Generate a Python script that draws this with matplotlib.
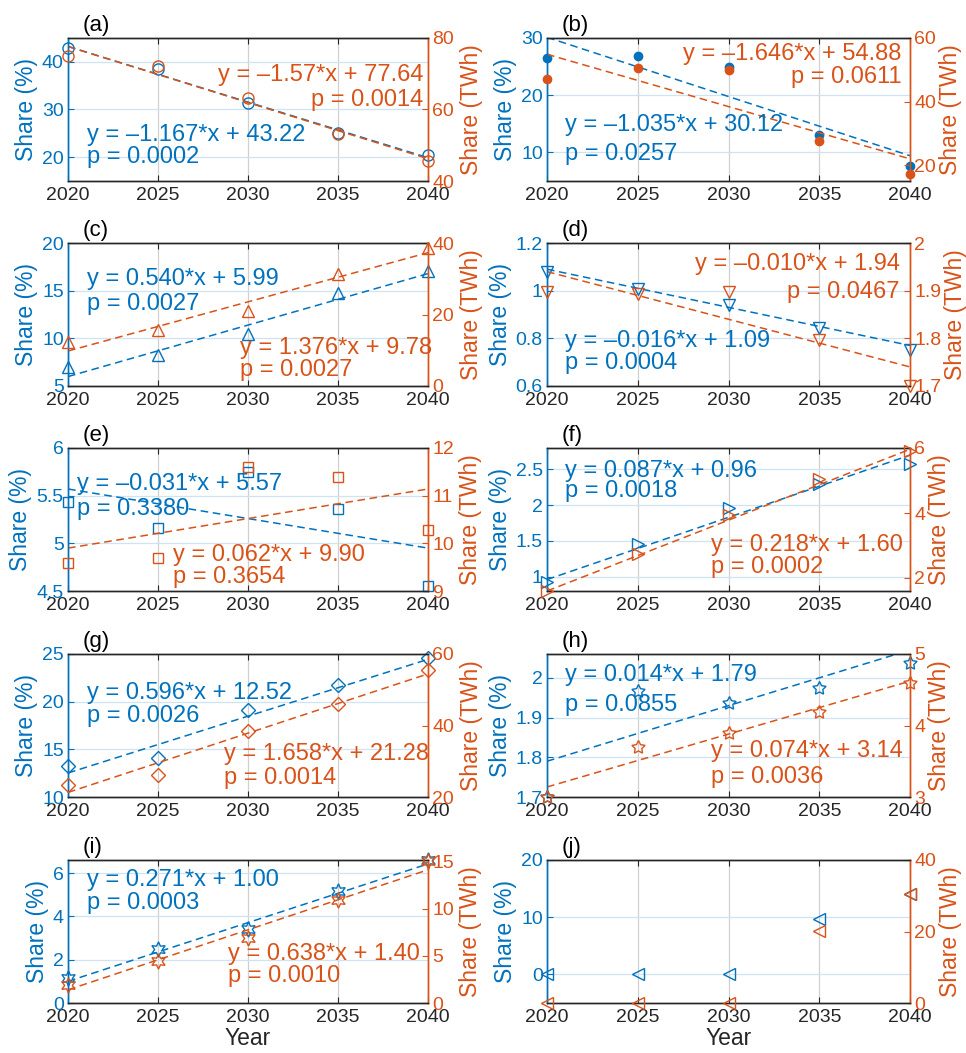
import matplotlib
matplotlib.use("Agg")
import matplotlib.pyplot as plt
import numpy as np
from matplotlib.ticker import FuncFormatter

plt.rcParams['font.family'] = ['Liberation Sans', 'DejaVu Sans']

# ---------------- data ----------------
years = [2020, 2025, 2030, 2035, 2040]
panel_ids = ['a', 'b', 'c', 'd', 'e', 'f', 'g', 'h', 'i', 'j']

a_pct = [42.8, 38.5, 31.4, 25.0, 20.4]
a_twh = [74.9, 72.2, 63.1, 53.1, 45.6]
b_pct = [26.5, 26.9, 25.0, 13.0, 7.6]
b_twh = [47.1, 50.6, 49.9, 27.5, 17.3]
c_pct = [6.95, 8.24, 10.44, 14.8, 17.07]
c_twh = [12.4, 15.6, 20.9, 31.4, 38.6]
d_pct = [1.078, 1.005, 0.94, 0.845, 0.752]
d_twh = [1.898, 1.893, 1.898, 1.797, 1.70]
e_pct = [5.43, 5.156, 5.75, 5.36, 4.556]
e_twh = [9.59, 9.69, 11.6, 11.39, 10.28]
f_pct = [0.92, 1.46, 1.96, 2.3, 2.57]
f_twh = [1.6, 2.73, 3.95, 5.04, 5.9]
g_pct = [13.29, 14.1, 19.1, 21.7, 24.6]
g_twh = [23.3, 26.2, 38.6, 45.95, 55.4]
h_pct = [1.70, 1.968, 1.937, 1.975, 2.037]
h_twh = [3.0, 3.70, 3.89, 4.19, 4.6]
i_pct = [1.14, 2.48, 3.42, 5.17, 6.6]
i_twh = [1.92, 4.45, 6.87, 10.95, 15.1]
j_pct = [0, 0, 0, 9.7, 14.06]
j_twh = [0, 0, 0, 20.2, 30.4]

pct_series = [a_pct, b_pct, c_pct, d_pct, e_pct, f_pct, g_pct, h_pct, i_pct, j_pct]
twh_series = [a_twh, b_twh, c_twh, d_twh, e_twh, f_twh, g_twh, h_twh, i_twh, j_twh]

# linear fits (x = years since 2020): slope, intercept
pct_slope = [-1.167, -1.035, 0.540, -0.016, -0.031, 0.087, 0.596, 0.014, 0.271, None]
pct_icpt = [43.22, 30.12, 5.99, 1.09, 5.57, 0.96, 12.52, 1.79, 1.00, None]
twh_slope = [-1.57, -1.646, 1.376, -0.010, 0.062, 0.218, 1.658, 0.074, 0.638, None]
twh_icpt = [77.64, 54.88, 9.78, 1.94, 9.90, 1.60, 21.28, 3.14, 1.40, None]

pct_eq = ["y = –1.167*x + 43.22", "y = –1.035*x + 30.12", "y = 0.540*x + 5.99",
          "y = –0.016*x + 1.09", "y = –0.031*x + 5.57", "y = 0.087*x + 0.96",
          "y = 0.596*x + 12.52", "y = 0.014*x + 1.79", "y = 0.271*x + 1.00", None]
pct_p = ["p = 0.0002", "p = 0.0257", "p = 0.0027", "p = 0.0004", "p = 0.3380",
         "p = 0.0018", "p = 0.0026", "p = 0.0855", "p = 0.0003", None]
twh_eq = ["y = –1.57*x + 77.64", "y = –1.646*x + 54.88", "y = 1.376*x + 9.78",
          "y = –0.010*x + 1.94", "y = 0.062*x + 9.90", "y = 0.218*x + 1.60",
          "y = 1.658*x + 21.28", "y = 0.074*x + 3.14", "y = 0.638*x + 1.40", None]
twh_p = ["p = 0.0014", "p = 0.0611", "p = 0.0027", "p = 0.0467", "p = 0.3654",
         "p = 0.0002", "p = 0.0014", "p = 0.0036", "p = 0.0010", None]

pct_ylim = [(15, 45), (5, 30), (5, 20), (0.6, 1.2), (4.5, 6), (0.8, 2.8), (10, 25), (1.7, 2.06), (0, 6.6), (-5, 20)]
pct_ticks = [[20, 30, 40], [10, 20, 30], [5, 10, 15, 20], [0.6, 0.8, 1, 1.2], [4.5, 5, 5.5, 6],
             [1, 1.5, 2, 2.5], [10, 15, 20, 25], [1.7, 1.8, 1.9, 2], [0, 2, 4, 6], [0, 10, 20]]
twh_ylim = [(40, 80), (15, 60), (0, 40), (1.7, 2), (9, 12), (1.6, 6), (20, 60), (3, 5), (0, 15.2), (0, 40)]
twh_ticks = [[40, 60, 80], [20, 40, 60], [0, 20, 40], [1.7, 1.8, 1.9, 2], [9, 10, 11, 12],
             [2, 4, 6], [20, 40, 60], [3, 4, 5], [0, 5, 10, 15], [0, 20, 40]]

# ---------------- style ----------------
BLUE = '#0072BD'
ORANGE = '#D95319'
DARK = '#262626'

markers = ['o', 'o', '^', 'v', 's', '>', 'D', (5, 1, 0), (6, 1, 0), '<']
msizes = [8, 6, 8, 8, 7, 8, 7, 10, 11, 8]
filled = [False, True, False, False, False, False, False, False, False, False]

# text anchors: (x, y1, y2, ha) in axes fraction
pct_txt = [(0.053, 0.32, 0.165, 'left'), (0.05, 0.39, 0.19, 'left'), (0.053, 0.75, 0.575, 'left'),
           (0.05, 0.316, 0.16, 'left'), (0.025, 0.748, 0.572, 'left'), (0.05, 0.84, 0.70, 'left'),
           (0.053, 0.73, 0.564, 'left'), (0.05, 0.853, 0.645, 'left'), (0.053, 0.862, 0.696, 'left'), None]
twh_txt = [(0.988, 0.74, 0.565, 'right'), (0.977, 0.89, 0.73, 'right'), (0.478, 0.267, 0.115, 'left'),
           (0.972, 0.855, 0.66, 'right'), (0.292, 0.25, 0.10, 'left'), (0.453, 0.32, 0.17, 'left'),
           (0.433, 0.30, 0.136, 'left'), (0.453, 0.325, 0.14, 'left'), (0.445, 0.34, 0.19, 'left'), None]

W, H = 966, 1053
fig = plt.figure(figsize=(W / 100, H / 100), dpi=100)

col_left = [68, 547]
col_width = [360, 363]
row_bottom = [181, 386, 591, 797, 1003]
ax_h = 143

fmt = FuncFormatter(lambda v, p: ('%g' % v))
ANN = 17

for k in range(10):
    r, c = divmod(k, 2)
    l = col_left[c] / W
    b = 1 - row_bottom[r] / H
    ax = fig.add_axes([l, b, col_width[c] / W, ax_h / H])
    ax2 = ax.twinx()

    ax.set_xlim(2020, 2040)
    ax.set_xticks(years)
    ax.set_ylim(*pct_ylim[k])
    ax.set_yticks(pct_ticks[k])
    ax2.set_ylim(*twh_ylim[k])
    ax2.set_yticks(twh_ticks[k])
    ax.yaxis.set_major_formatter(fmt)
    ax2.yaxis.set_major_formatter(fmt)

    # grids
    ax.set_axisbelow(True)
    ax.xaxis.grid(True, color='#d0d0d0', lw=0.9)
    ax.yaxis.grid(True, color='#cfe3f3', lw=0.9)

    # spines
    for a in (ax, ax2):
        a.spines['top'].set_color(DARK)
        a.spines['bottom'].set_color(DARK)
        a.spines['left'].set_color(BLUE)
        a.spines['right'].set_color(ORANGE)
        for s in a.spines.values():
            s.set_linewidth(1.0)

    ax.tick_params(axis='x', direction='in', length=4, colors=DARK, labelsize=14, pad=4,
                   top=True, width=0.8)
    ax.tick_params(axis='y', direction='in', length=4, colors=BLUE, labelsize=14, pad=3, width=0.8)
    ax2.tick_params(axis='y', direction='in', length=4, colors=ORANGE, labelsize=14, pad=3, width=0.8)

    ax.set_ylabel('Share (%)', color=BLUE, fontsize=16.5, labelpad=3)
    ax2.set_ylabel('Share (TWh)', color=ORANGE, fontsize=16.5, labelpad=2 if c == 1 else 4)
    if r == 4:
        ax.set_xlabel('Year', color=DARK, fontsize=16.5, labelpad=1)

    # data markers
    mk = markers[k]
    for a, series, col in ((ax, pct_series[k], BLUE), (ax2, twh_series[k], ORANGE)):
        if filled[k]:
            a.plot(years, series, linestyle='none', marker=mk, ms=msizes[k], color=col,
                   mec=col, mfc=col, clip_on=False, zorder=3)
        else:
            a.plot(years, series, linestyle='none', marker=mk, ms=msizes[k], color=col,
                   mec=col, mfc='none', mew=1.0, clip_on=False, zorder=3)

    # fit lines
    if pct_slope[k] is not None:
        xs = np.array([years[0], years[-1]], dtype=float)
        ax.plot(xs, pct_icpt[k] + pct_slope[k] * (xs - years[0]), '--', color=BLUE, lw=1.1,
                dashes=(5, 3), zorder=2)
        ax2.plot(xs, twh_icpt[k] + twh_slope[k] * (xs - years[0]), '--', color=ORANGE, lw=1.1,
                 dashes=(5, 3), zorder=2)
        x, y1, y2, ha = pct_txt[k]
        ax2.text(x, y1, pct_eq[k], transform=ax.transAxes, color=BLUE, fontsize=ANN,
                 ha=ha, va='center')
        ax2.text(x, y2, pct_p[k], transform=ax.transAxes, color=BLUE, fontsize=ANN,
                 ha=ha, va='center')
        x, y1, y2, ha = twh_txt[k]
        ax2.text(x, y1, twh_eq[k], transform=ax.transAxes, color=ORANGE, fontsize=ANN,
                 ha=ha, va='center')
        ax2.text(x, y2, twh_p[k], transform=ax.transAxes, color=ORANGE, fontsize=ANN,
                 ha=ha, va='center')

    ax.text(0.04, 1.015, '(%s)' % panel_ids[k], transform=ax.transAxes, fontsize=16,
            color='black', ha='left', va='bottom')

fig.savefig('out.png', dpi=100, facecolor='white')
